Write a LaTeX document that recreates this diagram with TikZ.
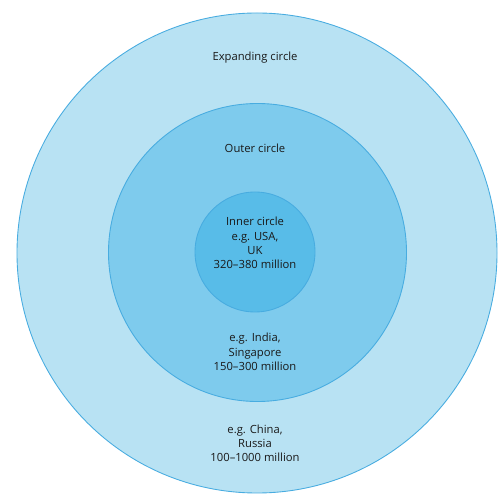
\documentclass[tikz,border=0pt]{standalone}
\usepackage{fontspec}
\setmainfont{Open Sans}
\usepackage{xcolor}
\usetikzlibrary{positioning}

\definecolor{expandfill}{RGB}{184,226,243}
\definecolor{outerfill}{RGB}{126,203,237}
\definecolor{innerfill}{RGB}{88,188,232}
\definecolor{ringline}{RGB}{72,172,224}

\begin{document}
\begin{tikzpicture}[
    ring/.style={circle, draw=ringline, line width=0.5pt, inner sep=0pt},
    txt/.style={align=center, font=\fontsize{6.4}{8.1}\selectfont, text=black!90}
]
\useasboundingbox (0,0) rectangle (9.96,10.02);

% Circles
\node[ring, fill=expandfill, minimum size=9.6cm] (expanding) at (5.14,4.96) {};
\node[ring, fill=outerfill, minimum size=5.96cm] (outer) at (5.15,4.97) {};
\node[ring, fill=innerfill, minimum size=2.4cm] (inner) at (5.10,4.98) {};

% Labels
\node[txt] (expandname) at (5.10,8.86) {Expanding circle};
\node[txt] (outername) at (5.10,7.06) {Outer circle};
\node[txt] (innertext) at (5.10,5.16) {Inner circle\\e.g. USA,\\UK\\320--380 million};
\node[txt] (outertext) at (5.10,2.98) {e.g. India,\\Singapore\\150--300 million};
\node[txt] (expandtext) at (5.10,1.15) {e.g. China,\\Russia\\100--1000 million};

\end{tikzpicture}
\end{document}
